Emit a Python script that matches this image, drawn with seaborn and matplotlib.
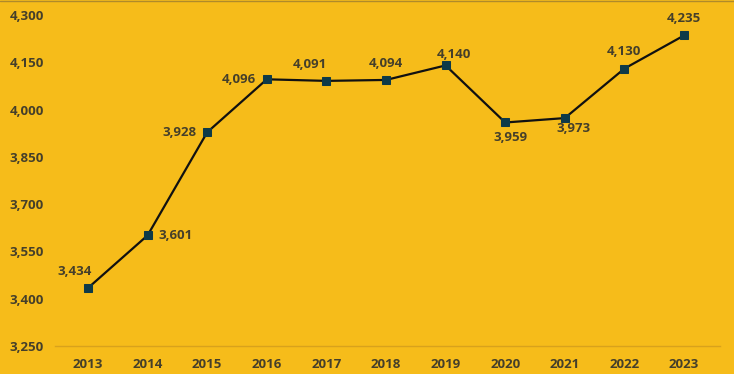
import matplotlib
matplotlib.use("Agg")
import matplotlib.pyplot as plt
import seaborn as sns
import pandas as pd

anos = [2013, 2014, 2015, 2016, 2017, 2018, 2019, 2020, 2021, 2022, 2023]
valores = [3434, 3601, 3928, 4096, 4091, 4094, 4140, 3959, 3973, 4130, 4235]
# posição do rótulo de cada ponto (deslocamento em pontos)
posicoes = [(-9.5, 12), (20, 0), (-20, 0), (-20, 0), (-12, 12), (0, 12), (6, 8),
            (3.5, -11), (6.5, -7.5), (0, 12), (0, 12)]
y_ticks = [3250, 3400, 3550, 3700, 3850, 4000, 4150, 4300]

fundo = "#F6BC1A"
texto = "#453F2A"

sns.set_theme(style="white")
plt.rcParams["font.family"] = ["Open Sans", "DejaVu Sans"]

df = pd.DataFrame({"Ano": anos, "Valor": valores})

fig = plt.figure(figsize=(7.34, 3.74), dpi=100, facecolor=fundo)
ax = fig.add_axes([55 / 734, 1 - 346 / 374, 665 / 734, 331 / 374])
ax.set_facecolor(fundo)

sns.lineplot(data=df, x="Ano", y="Valor", ax=ax, color="#111111", linewidth=1.6,
             marker="s", markersize=6, markerfacecolor="#0E3A48",
             markeredgecolor="#0E3A48")

for ano, valor, (dx, dy) in zip(anos, valores, posicoes):
    ax.annotate(f"{valor:,}", (ano, valor), xytext=(dx, dy), textcoords="offset points",
                ha="center", va="center", fontsize=9.5, fontweight="bold", color=texto)

ax.set_xlim(2013 - 33 / 59.6, 2023 + 36 / 59.6)
ax.set_ylim(3250, 4300)
ax.set_xticks(anos)
ax.set_xticklabels([str(a) for a in anos], fontweight="bold")
ax.set_yticks(y_ticks)
ax.set_yticklabels([f"{v:,}" for v in y_ticks], fontweight="bold")
ax.tick_params(axis="both", length=0, labelsize=9.5, labelcolor=texto)
ax.tick_params(axis="x", pad=9)
ax.tick_params(axis="y", pad=8)
ax.set_xlabel("")
ax.set_ylabel("")
for lado in ["top", "right", "left"]:
    ax.spines[lado].set_visible(False)
ax.spines["bottom"].set_color("#D8A21C")
ax.spines["bottom"].set_linewidth(1)

fig.add_artist(plt.Line2D([0, 1], [0.998, 0.998], color="#B08A2A", linewidth=1,
                          transform=fig.transFigure))

fig.savefig("out.png", dpi=100, facecolor=fundo)
